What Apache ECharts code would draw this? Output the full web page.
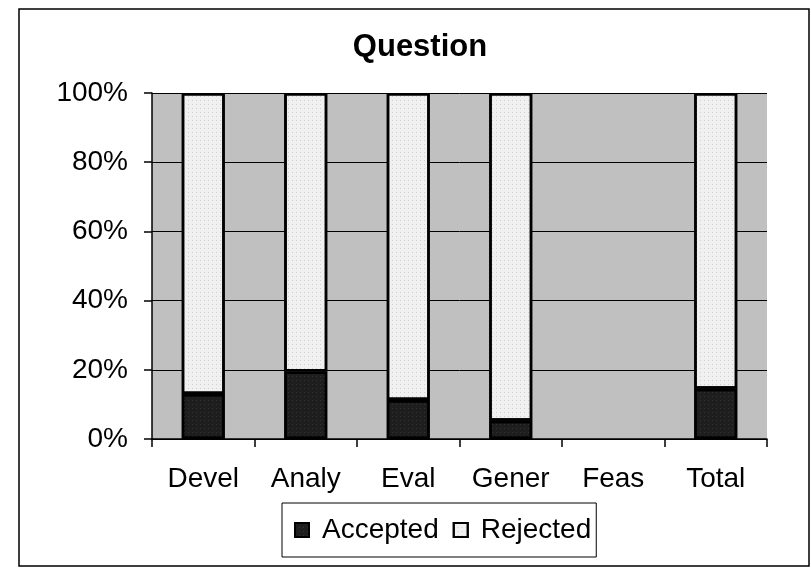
<!DOCTYPE html>
<html>
<head>
<meta charset="utf-8">
<script src="https://cdn.jsdelivr.net/npm/echarts@6/dist/echarts.min.js"></script>
<style>
html,body{margin:0;padding:0;background:#fff;}
#c{width:811px;height:568px;}
</style>
</head>
<body>
<div id="c"></div>
<script>
var titleText = 'Question';
var categories = ['Devel', 'Analy', 'Eval', 'Gener', 'Feas', 'Total'];
var accepted = [13, 19.5, 11.3, 5.3, null, 14.5];
var rejected = [87, 80.5, 88.7, 94.7, null, 85.5];
var yTicks = [0, 20, 40, 60, 80, 100];

var font = 'Liberation Sans, Arial, sans-serif';
var chart = echarts.init(document.getElementById('c'), null, {renderer: 'canvas'});
chart.setOption({
  animation: false,
  backgroundColor: '#fff',
  graphic: [
    {type: 'rect', shape: {x: 19, y: 9, width: 790, height: 557}, style: {fill: 'none', stroke: '#000', lineWidth: 1.5}, z: -1},
    {type: 'text', x: 420, y: 47, style: {text: titleText, font: 'bold 31px ' + font, fill: '#000', textAlign: 'center', textVerticalAlign: 'middle'}}
  ],
  legend: {
    left: 282, top: 503,
    padding: [13, 5, 13, 12],
    borderColor: '#000', borderWidth: 1,
    itemWidth: 14, itemHeight: 14, itemGap: 14,
    icon: 'rect',
    textStyle: {fontFamily: font, fontSize: 28, color: '#000', padding: [0, 0, 0, 8]},
    data: ['Accepted', 'Rejected']
  },
  grid: {left: 152, right: 44, top: 93, bottom: 129, show: true, backgroundColor: '#c0c0c0', borderWidth: 0},
  xAxis: {
    type: 'category', data: categories,
    axisLine: {lineStyle: {color: '#000', width: 1.5}},
    axisTick: {show: true, length: 8, lineStyle: {color: '#000', width: 1.5}},
    axisLabel: {fontFamily: font, fontSize: 28, color: '#000', margin: 26}
  },
  yAxis: {
    type: 'value', min: 0, max: 100, interval: 20,
    axisLine: {show: true, lineStyle: {color: '#000', width: 1.5}},
    axisTick: {show: true, length: 8, lineStyle: {color: '#000', width: 1.5}},
    splitLine: {show: true, lineStyle: {color: '#000', width: 1}},
    axisLabel: {fontFamily: font, fontSize: 28, color: '#000', margin: 24, formatter: function (v) { return yTicks.indexOf(v) >= 0 ? v + '%' : ''; }}
  },
  series: [
    {name: 'Accepted', type: 'bar', stack: 's', data: accepted, barWidth: 43,
     itemStyle: {color: '#1e1e1e', borderColor: '#000', borderWidth: 2.5,
       decal: {symbol: 'rect', symbolSize: 1, color: 'rgba(90,90,90,0.35)', dashArrayX: [1, 3], dashArrayY: [1, 3]}}},
    {name: 'Rejected', type: 'bar', stack: 's', data: rejected, barWidth: 43,
     itemStyle: {color: '#f0f0f0', borderColor: '#000', borderWidth: 2.5,
       decal: {symbol: 'rect', symbolSize: 1, color: 'rgba(150,150,150,0.35)', dashArrayX: [1, 3], dashArrayY: [1, 3]}}}
  ]
});
</script>
</body>
</html>
